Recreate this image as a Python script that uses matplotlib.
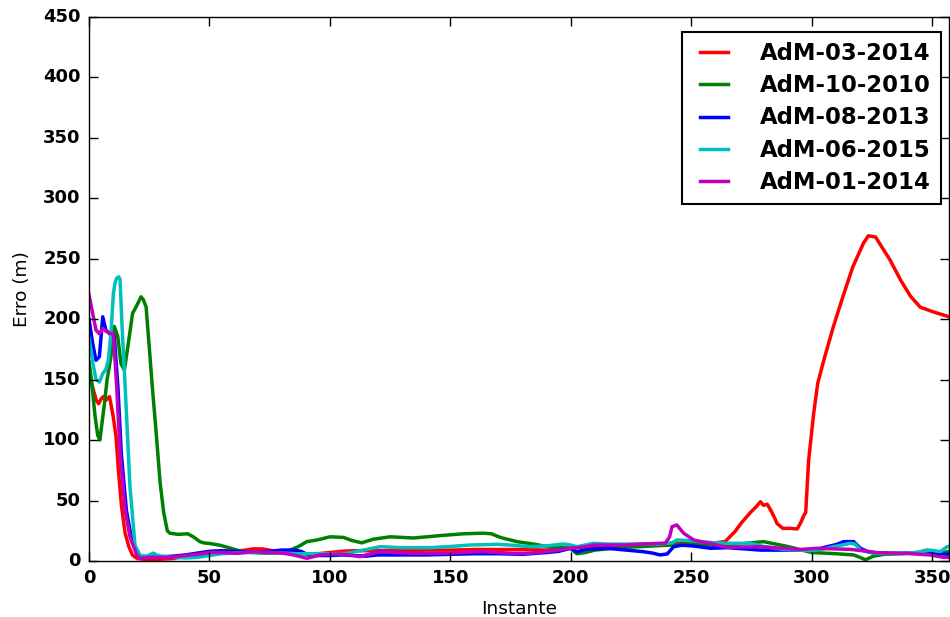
import matplotlib
matplotlib.use('Agg')
import matplotlib.pyplot as plt

# Valores (instante, erro em metros)
red_x = [0, 2, 3, 4, 5, 6, 7, 8.5, 10, 11.2, 12.2, 13.5, 15, 16.5, 18, 20, 25, 30, 35, 40,
         45, 50, 55, 60, 65, 68, 72, 76, 80, 85, 90, 95, 100, 105, 110, 115, 120, 130, 140,
         150, 160, 170, 180, 190, 200, 210, 220, 230, 240, 250, 255, 260, 264, 268, 271,
         274.5, 277, 278.7, 280, 281.5, 283, 284.5, 285.6, 288, 291, 294, 295.5, 296.8, 297.5,
         298.7, 300.8, 302.5, 305, 309, 313, 317, 321.5, 323.5, 326.5, 329, 332.5, 337, 341,
         345, 350.5, 357]
red_y = [155, 140, 133, 130, 134, 136, 133, 136, 120, 103, 75, 45, 23, 12, 5, 2, 1, 1.5, 2, 4,
         5, 6.5, 7, 8, 9, 10, 10, 8.5, 7.5, 7, 6, 6, 7, 8, 8.5, 8.5, 8.5, 8.5, 9,
         9, 9.5, 9.5, 9.5, 9, 11, 12, 13, 14, 14.5, 14.5, 14.5, 15, 16, 24, 32,
         40, 45, 49, 46, 47, 42, 36, 31, 27, 27, 26.5, 32, 38, 40,
         83, 122, 147, 166, 194, 219, 243, 263, 269, 268, 260, 249, 232, 219,
         210, 206, 202]

green_x = [0, 1, 2.5, 3.6, 4.5, 6.4, 7.5, 9.1, 10.5, 11.9, 13.3, 14.7, 16.1, 18.1, 19.5, 21.6,
           22.6, 23.7, 25, 26.4, 27.8, 29.5, 31, 32.5, 33.5, 37, 41, 43.3, 46, 47.5, 50, 54.4,
           58, 61.3, 65, 68.2, 73, 78, 83.5, 87, 90.4, 95, 100, 105.6, 109, 113.2, 118, 125,
           134.7, 145.8, 155.5, 163.8, 167, 170.7, 177.6, 184.5, 190, 195, 199.7, 202.5, 206,
           210, 220, 230, 240, 250, 260, 270, 280, 290, 300, 310, 317.4, 320, 322.3, 325.7,
           330, 337, 343.7, 348, 352.7, 355, 357]
green_y = [165, 150, 120, 104, 100, 130, 150, 169, 194, 186, 163, 158, 177, 205, 210, 218.5,
           216, 210, 177, 141, 108, 65, 40, 25, 23, 22, 22.5, 20, 16, 15, 14.5, 13,
           11, 9, 7.5, 7, 6.5, 6.5, 9, 12, 16, 17.5, 20, 19.5, 17, 15, 18, 20,
           19, 21, 22.5, 23, 22.5, 19.5, 16, 14, 12, 11.5, 10.5, 6, 7,
           9, 11, 12, 13, 14, 13, 14, 16, 12, 7, 6, 5, 3, 1, 4,
           5.5, 6, 7, 9, 5, 7, 8]

blue_x = [0, 1.5, 2.9, 4.3, 5.7, 7, 8.5, 10.5, 12, 13.4, 15.5, 17.5, 20.3, 22, 25, 30, 35,
          40, 45, 50, 55, 60, 65, 70, 75, 80, 85, 88, 91, 95, 100, 105, 110, 115, 120, 130,
          140, 150, 160, 170, 180, 190, 195, 200, 202.5, 206, 215, 223, 230, 234, 237, 240,
          242.7, 246, 251, 258, 265, 272, 278.7, 288, 295, 299.4, 303, 306.3, 310, 313.3,
          317.4, 320.2, 323, 325.7, 330, 336.8, 343, 349.3, 353, 357]
blue_y = [200, 180, 166, 169, 202, 191, 188, 186, 144, 89, 42, 20, 5, 3, 3, 3.5, 4,
          5, 6.5, 8, 8.5, 8, 7.5, 7.5, 8, 9, 9, 8, 5, 4.5, 4.5, 5, 4.5, 4, 5, 5,
          5, 5.5, 6, 6, 5.5, 7, 8, 10.5, 7.7, 9.5, 10.5, 9, 7.7, 6.5, 5, 5.8,
          11.8, 13, 12.4, 10.5, 11, 10, 9, 9, 9, 9, 10, 11.8, 13.5, 16,
          16, 10.5, 8, 6.9, 6.5, 6.3, 6.3, 6.9, 6, 5.5]

cyan_x = [0, 1.5, 2.9, 4.3, 5.7, 7.1, 8, 9.1, 10.1, 10.8, 11.5, 12.3, 12.9, 13.6, 15, 17,
          19.1, 21.2, 24, 26.7, 28, 30, 35, 40, 45, 50, 55, 60, 65, 70, 75, 80, 85, 90, 95,
          100, 107, 110, 113.9, 120.8, 130, 141.6, 150, 158.2, 169.3, 176, 183.1, 190, 197,
          200, 202.5, 209.4, 215, 223, 230, 237, 242, 244, 248, 254, 260, 265, 274.5, 280,
          288.3, 295, 300, 305, 309.1, 312, 316, 318, 320.2, 325.7, 330, 336.8, 343, 349.3,
          353.4, 356.2, 357]
cyan_y = [185, 165, 150, 148, 155, 159, 166, 188, 221, 230, 234, 235, 233, 199, 144, 61.5,
          13, 4.6, 4, 6.5, 5, 4, 3, 2.5, 3, 4.5, 6, 6.5, 7, 7, 7, 6.5, 6, 6, 6,
          6, 6.3, 7.5, 9, 11.8, 11, 11, 12, 13.2, 13.8, 13, 11.8, 12.5, 14.1,
          13.2, 11.8, 14.6, 14, 14, 14, 14, 15, 17.4, 17, 16, 15, 14.6, 14.6, 12,
          9.6, 9, 8.5, 10, 11.8, 13, 14.6, 14, 9, 6.3, 6.3, 6.3, 7, 9,
          7.7, 11.8, 12]

magenta_x = [0, 1.5, 2.9, 4.3, 5.7, 7.1, 9.1, 10.1, 11.5, 12.9, 15, 17, 19.8, 21.2, 25, 30,
             33.8, 40, 45, 50.2, 55, 61.3, 65, 68.2, 73, 78, 82, 84.8, 88, 90.4, 93, 95.9,
             100, 104.2, 108, 112.5, 116, 120.8, 127, 134.7, 141, 148.5, 155, 162.4, 170,
             176.2, 181, 185.9, 193, 199.8, 205, 209.4, 216, 223.3, 230, 237.1, 239.2, 241,
             242, 244, 246.8, 249, 251, 254, 257.9, 261, 264.8, 270, 278, 288, 295, 302.2,
             309, 316, 321, 327, 333, 339.5, 345, 349, 354.8, 357]
magenta_y = [220, 205, 191, 188, 192.5, 190, 188, 188, 144, 89, 42, 20, 5, 2.2, 3, 3,
             3, 4.5, 5.5, 7, 7, 6.3, 7, 7.7, 7, 6.9, 6, 5, 3.5, 2.2, 3.5, 5,
             5.5, 5.8, 5, 3.6, 5.5, 7.7, 7, 6.3, 6.3, 6.3, 7, 7.7, 7,
             6.3, 6.3, 6.9, 8.5, 10.5, 11.5, 13.2, 13.2, 13.2, 14, 14.6, 14.6, 20,
             28.4, 29.8, 23, 20, 17.4, 16, 14.6, 13, 11.3, 11.5, 11.8, 10.5, 9.5, 10.5,
             10, 9.6, 8.5, 6.9, 6.5, 6.3, 5.5, 5, 3, 3]

labels = ['AdM-03-2014', 'AdM-10-2010', 'AdM-08-2013', 'AdM-06-2015', 'AdM-01-2014']

plt.style.use('classic')
plt.rcParams['font.family'] = ['DejaVu Sans']

fig = plt.figure(figsize=(9.5, 6.17), dpi=100, facecolor='white')
ax = fig.add_axes([0.0937, 0.0908, 0.9053, 0.8817])

ax.plot(red_x, red_y, 'r-', lw=2.5, label=labels[0])
ax.plot(green_x, green_y, 'g-', lw=2.5, label=labels[1])
ax.plot(blue_x, blue_y, 'b-', lw=2.5, label=labels[2])
ax.plot(cyan_x, cyan_y, 'c-', lw=2.5, label=labels[3])
ax.plot(magenta_x, magenta_y, 'm-', lw=2.5, label=labels[4])

ax.set_xlim(0, 357)
ax.set_ylim(0, 450)
ax.set_xticks(range(0, 351, 50))
ax.set_yticks(range(0, 451, 50))
ax.tick_params(labelsize=13, length=6.5, width=1, pad=6)
for t in ax.get_xticklabels() + ax.get_yticklabels():
    t.set_fontweight('bold')

ax.set_xlabel('Instante', fontsize=13.3, labelpad=9)
ax.set_ylabel('Erro (m)', fontsize=13.3, labelpad=9)

leg = ax.legend(loc='upper right', bbox_to_anchor=(941 / 950, 1 - 32 / 617),
                bbox_transform=fig.transFigure, borderaxespad=0,
                prop={'size': 16.4, 'weight': 'bold'}, borderpad=0.45,
                handlelength=1.85, handletextpad=1.1, labelspacing=0.4)
leg.get_frame().set_linewidth(1.5)

fig.savefig('out.png', dpi=100, facecolor='white')
